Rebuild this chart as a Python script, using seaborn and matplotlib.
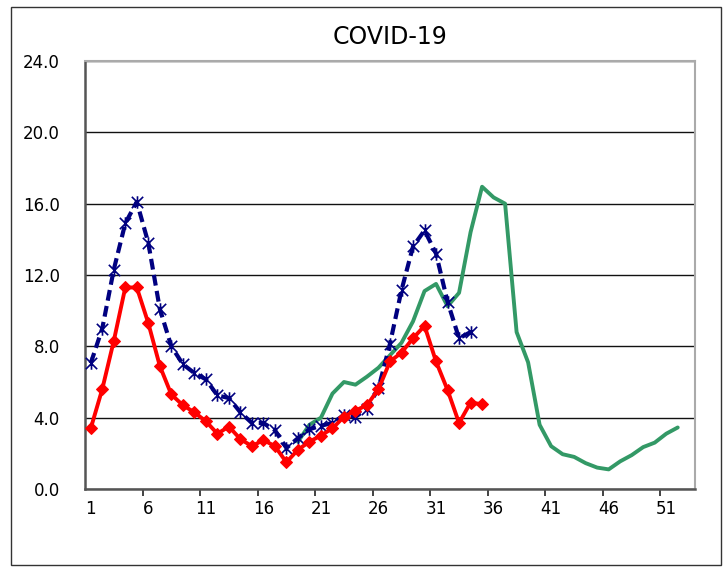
import numpy as np
import pandas as pd
import seaborn as sns
import matplotlib.pyplot as plt
from matplotlib.path import Path
from matplotlib.patches import Rectangle
from matplotlib.ticker import FixedLocator, FuncFormatter


TITLE = "COVID-19"

# weekly values
red_weeks = list(range(1, 36))
red_values = [3.4, 5.6, 8.3, 11.3, 11.3, 9.3, 6.9, 5.3, 4.7, 4.3,
              3.8, 3.1, 3.5, 2.8, 2.4, 2.75, 2.4, 1.5, 2.2, 2.65,
              3.0, 3.4, 4.05, 4.4, 4.7, 5.6, 7.15, 7.65, 8.45, 9.15,
              7.15, 5.55, 3.7, 4.85, 4.75]

blue_weeks = list(range(1, 35))
blue_values = [7.05, 9.0, 12.3, 14.9, 16.1, 13.8, 10.1, 8.0, 7.0, 6.5,
               6.15, 5.25, 5.1, 4.3, 3.7, 3.7, 3.3, 2.3, 2.85, 3.35,
               3.55, 3.7, 4.15, 4.05, 4.5, 5.65, 8.15, 11.15, 13.6, 14.5,
               13.2, 10.5, 8.45, 8.8]

green_weeks = list(range(19, 53))
green_values = [2.65, 3.6, 4.0, 5.35, 6.0, 5.85, 6.3, 6.8, 7.5, 8.2,
                9.4, 11.1, 11.5, 10.25, 11.0, 14.4, 16.95, 16.35, 16.0, 8.8,
                7.1, 3.6, 2.4, 1.95, 1.8, 1.45, 1.2, 1.1, 1.55, 1.9,
                2.35, 2.6, 3.1, 3.45]

x_labels = list(range(1, 52, 5))
y_ticks = [0, 4, 8, 12, 16, 20, 24]


def star_marker() -> Path:
    # X with a vertical bar, like the spreadsheet "star" marker
    verts = [(-1, -1), (1, 1), (-1, 1), (1, -1), (0, -1.1), (0, 1.1)]
    codes = [Path.MOVETO, Path.LINETO] * 3
    return Path(verts, codes)


def main() -> None:
    sns.set_style("white")
    plt.rcParams["font.family"] = ["DejaVu Sans"]
    plt.rcParams["text.color"] = "black"
    plt.rcParams["xtick.color"] = "black"
    plt.rcParams["ytick.color"] = "black"

    fig = plt.figure(figsize=(7.28, 5.71), dpi=100)
    ax = fig.add_axes([85 / 728, 1 - 489 / 571, 610 / 728, 428 / 571])

    # outer chart border
    fig.patches.append(Rectangle((11 / 728, 6 / 571), 710 / 728, 558 / 571,
                                 transform=fig.transFigure, fill=False,
                                 edgecolor="#333333", linewidth=1.0))

    red = pd.DataFrame({"week": red_weeks, "value": red_values})
    blue = pd.DataFrame({"week": blue_weeks, "value": blue_values})
    green = pd.DataFrame({"week": green_weeks, "value": green_values})

    sns.lineplot(data=green, x="week", y="value", color="#339966",
                 linewidth=2.8, ax=ax, zorder=3)
    sns.lineplot(data=blue, x="week", y="value", color="#000080",
                 linewidth=3.0, linestyle=(0, (2.6, 1.3)),
                 marker=star_marker(), markersize=9, markeredgewidth=1.2,
                 markerfacecolor="none", markeredgecolor="#000080",
                 ax=ax, zorder=4)
    sns.lineplot(data=red, x="week", y="value", color="#ff0000",
                 linewidth=2.8, marker="D", markersize=6.5,
                 markeredgecolor="#ff0000", markerfacecolor="#ff0000",
                 ax=ax, zorder=5)

    ax.set_xlim(0.5, 53.5)
    ax.set_ylim(0, 24)
    ax.set_yticks(y_ticks)
    ax.yaxis.set_major_formatter(FuncFormatter(lambda v, _: f"{v:.1f}"))
    ax.set_xticks(x_labels)
    ax.xaxis.set_minor_locator(FixedLocator(np.arange(5.5, 53, 5)))
    ax.tick_params(axis="x", which="major", length=0, pad=8, labelsize=12)
    ax.tick_params(axis="x", which="minor", length=5, width=1.2,
                   color="#222222", direction="out", bottom=True)
    ax.tick_params(axis="y", which="major", length=0, pad=18, labelsize=12)

    ax.grid(axis="y", color="#111111", linewidth=1.0)
    ax.grid(axis="x", visible=False)
    ax.set_axisbelow(True)

    for side in ("left", "bottom"):
        ax.spines[side].set_color("#555555")
        ax.spines[side].set_linewidth(1.8)
    for side in ("top", "right"):
        ax.spines[side].set_color("#aaaaaa")
        ax.spines[side].set_linewidth(1.5)

    ax.set_xlabel("")
    ax.set_ylabel("")
    ax.set_title(TITLE, fontsize=17, pad=12)

    fig.savefig("out.png", dpi=100)
    plt.close(fig)


if __name__ == "__main__":
    main()
